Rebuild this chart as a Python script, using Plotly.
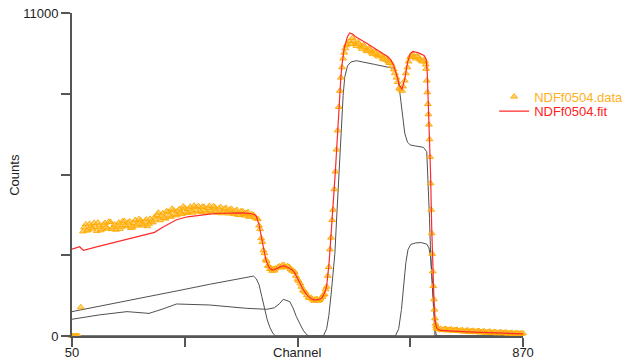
import plotly.graph_objects as go

# ---- measured spectrum (channel, counts) ----
data_channels_main = (
    [50, 53, 56, 59, 62, 66]
    + list(range(70, 386, 5))
    + list(range(388, 421, 2))
    + list(range(425, 506, 5))
    + list(range(507, 552, 2))
    + list(range(555, 691, 5))
    + list(range(692, 717, 1))
    + list(range(720, 871, 5))
)
data_counts_main = [
    0, 0, 0, 0, 0, 980,
    # 70 .. 385
    3560, 3800, 3620, 3740, 3850, 3580, 3760, 3640, 3850, 3660,
    3880, 3700, 3620, 3860, 3720, 3920, 3740, 3900, 3700, 3950,
    3790, 3930, 3760, 3970, 3820, 3900, 4050, 4120, 3940, 4180,
    4000, 4230, 4060, 4280, 4110, 4320, 4150, 4360, 4190, 4400,
    4200, 4380, 4420, 4220, 4400, 4210, 4430, 4240, 4380, 4200,
    4390, 4220, 4360, 4170, 4330, 4150, 4290, 4120, 4260, 4100,
    4220, 4080, 4120, 4010,
    # 388 .. 420
    3980, 3760, 3640, 3330, 3200, 2920, 2820, 2600, 2560, 2390,
    2380, 2280, 2300, 2220, 2280, 2230, 2300,
    # 425 .. 505
    2350, 2330, 2420, 2340, 2350, 2230, 2180, 1930, 1790, 1560,
    1480, 1310, 1300, 1200, 1260, 1220, 1330,
    # 507 .. 551
    1400, 1430, 1590, 1680, 2050, 2350, 2950, 3350, 3950, 4300,
    5000, 5600, 6350, 7000, 7800, 8350, 8800, 9150, 9450, 9650,
    9800, 9900, 9950,
    # 555 .. 690
    10050, 10150, 9950, 10000, 9850, 9900, 9720, 9800, 9650, 9700,
    9560, 9600, 9450, 9480, 9350, 9300, 9080, 8800, 8450, 8350,
    8700, 9150, 9500, 9580, 9450, 9500, 9380, 9400,
    # 692 .. 716
    9350, 9250, 9100, 8700, 8300, 7900, 7550, 7200, 6700, 6100,
    5200, 4300, 3500, 2800, 2200, 1700, 1250, 900, 600, 420,
    330, 280, 250, 240, 230,
    # 720 .. 870
    250, 210, 240, 200, 220, 190, 210, 170, 200, 160,
    190, 150, 180, 140, 170, 130, 160, 120, 150, 110,
    140, 100, 130, 100, 120, 90, 110, 80, 100, 80, 90,
]

# interleaved channels (odd offsets) of the same measurement
data_channels_extra = (
    list(range(72, 383, 5))
    + list(range(427, 503, 5))
    + list(range(557, 688, 5))
    + list(range(722, 868, 5))
)
data_counts_extra = [
    # 72 .. 382
    3700, 3590, 3820, 3660, 3720, 3860, 3600, 3790, 3700, 3890,
    3640, 3800, 3760, 3650, 3900, 3780, 3860, 3680, 3850, 3760,
    3980, 3820, 3890, 3740, 3990, 3870, 3970, 4200, 4080, 4020,
    4250, 4100, 4330, 4150, 4260, 4200, 4410, 4230, 4320, 4250,
    4440, 4290, 4260, 4400, 4280, 4360, 4270, 4420, 4250, 4340,
    4180, 4330, 4230, 4300, 4200, 4260, 4130, 4240, 4150, 4190,
    4060, 4150, 4040,
    # 427 .. 502
    2370, 2400, 2350, 2380, 2280, 2220, 2050, 1880, 1680, 1520,
    1390, 1290, 1250, 1240, 1200, 1270,
    # 557 .. 687
    9950, 10050, 9880, 9950, 9780, 9850, 9700, 9760, 9600, 9650,
    9520, 9560, 9420, 9400, 9300, 9200, 8950, 8650, 8400, 8500,
    8950, 9350, 9560, 9500, 9520, 9420, 9350,
    # 722 .. 867
    200, 230, 190, 220, 180, 200, 170, 190, 150, 180,
    140, 170, 130, 160, 120, 150, 110, 140, 100, 130,
    90, 120, 90, 110, 80, 100, 70, 90, 70, 80,
]

data_channels = data_channels_main + data_channels_extra
data_counts = data_counts_main + data_counts_extra

# ---- fitted spectrum ----
fit_channels = [
    50, 58, 64, 67, 71, 100, 150, 185, 200, 215, 240, 260, 280, 300, 320,
    340, 360, 375, 382, 385, 388, 390, 392, 394, 396, 398, 400, 402, 404,
    406, 408, 410, 412, 414, 416, 418, 420, 425, 430, 435, 440, 445, 450,
    455, 460, 465, 470, 475, 480, 485, 490, 495, 500, 505, 507, 509, 511,
    513, 515, 517, 519, 521, 523, 525, 527, 529, 531, 533, 535, 537, 539,
    541, 543, 545, 547, 549, 551, 555, 560, 565, 570, 575, 580, 585, 590,
    595, 600, 605, 610, 615, 620, 625, 630, 635, 640, 645, 650, 655, 660,
    665, 670, 675, 680, 685, 690, 692, 694, 696, 698, 700, 702, 704, 706,
    708, 710, 712, 714, 716, 720, 760, 800, 840, 870,
]
fit_counts = [
    2960, 3010, 3040, 2980, 2920, 3060, 3300, 3460, 3530, 3700, 3960, 4060,
    4110, 4150, 4180, 4190, 4190, 4170, 4130, 4080, 3950, 3800, 3600, 3380,
    3150, 2950, 2780, 2640, 2520, 2420, 2350, 2300, 2270, 2250, 2250, 2260,
    2280, 2320, 2370, 2390, 2360, 2320, 2260, 2150, 1960, 1760, 1590, 1450,
    1340, 1270, 1230, 1230, 1250, 1300, 1380, 1460, 1560, 1700, 2000, 2400,
    2900, 3400, 3900, 4350, 4950, 5650, 6300, 7050, 7750, 8400, 8850, 9250,
    9580, 9800, 9950, 10080, 10200, 10320, 10280, 10200, 10150, 10100,
    10040, 9980, 9920, 9860, 9800, 9740, 9680, 9620, 9560, 9500, 9400, 9200,
    8900, 8550, 8400, 8750, 9300, 9620, 9690, 9670, 9640, 9600, 9550, 9500,
    9420, 8950, 7800, 7050, 5500, 3700, 2300, 1300, 600, 330, 250, 220, 190,
    150, 120, 90, 70,
]

# ---- partial (element) spectra ----
comp1_channels = [50, 100, 150, 200, 250, 300, 350, 372, 380, 385, 390, 395,
                  400, 405, 410, 415, 420, 870]
comp1_counts = [830, 1010, 1200, 1390, 1570, 1760, 1940, 2010, 2040, 1950,
                1750, 1350, 900, 550, 280, 100, 0, 0]

comp2_channels = [50, 100, 150, 170, 190, 215, 240, 300, 367, 404, 418, 428,
                  434, 446, 452, 458, 464, 470, 475, 480, 870]
comp2_counts = [570, 720, 830, 800, 770, 920, 1090, 1056, 943, 909, 960, 1113,
                1250, 1170, 950, 658, 400, 204, 80, 0, 0]

comp3_channels = [50, 507, 513, 517, 521, 525, 528, 531, 534, 537, 540, 543,
                  546, 551, 557, 567, 600, 634, 640, 643, 646, 650, 655, 660,
                  665, 675, 689, 695, 698, 700, 702, 705, 707, 710, 870]
comp3_counts = [0, 0, 250, 700, 1400, 2136, 2817, 3950, 5085, 6250, 7357,
                8200, 8832, 9200, 9330, 9376, 9250, 9117, 8950, 8720, 8300,
                7700, 6903, 6600, 6505, 6470, 6425, 6277, 5085, 4000, 2817,
                1600, 773, 0, 0]

comp4_channels = [50, 638, 644, 649, 653, 657, 661, 666, 675, 685, 695, 699,
                  702, 705, 708, 711, 713, 870]
comp4_counts = [0, 0, 250, 900, 1700, 2500, 2950, 3120, 3170, 3180, 3130,
                3000, 2700, 1900, 800, 150, 0, 0]

x_tickvals = [50, 255, 460, 665, 870]
x_ticktext = ["50", "", "", "", "870"]
y_tickvals = [0, 2750, 5500, 8250, 11000]
y_ticktext = ["0", "", "", "", "11000"]

FONT = "Liberation Sans, Arial, sans-serif"
AXIS_COLOR = "#555555"
PART_COLOR = "#505050"

fig = go.Figure()

for cx, cy in [(comp1_channels, comp1_counts), (comp2_channels, comp2_counts),
               (comp3_channels, comp3_counts), (comp4_channels, comp4_counts)]:
    fig.add_trace(go.Scatter(
        x=cx, y=cy, mode="lines", showlegend=False,
        line=dict(color=PART_COLOR, width=1), hoverinfo="skip",
    ))

fig.add_trace(go.Scatter(
    x=data_channels, y=data_counts, mode="markers", name="NDFf0504.data",
    legend="legend", cliponaxis=False,
    marker=dict(symbol="triangle-up", size=6,
                color="rgba(255,190,60,0.65)",
                line=dict(color="rgba(255,170,0,0.95)", width=1)),
))

fig.add_trace(go.Scatter(
    x=fit_channels, y=fit_counts, mode="lines", name="NDFf0504.fit",
    legend="legend2", line=dict(color="#FF2A2A", width=1.2),
))

fig.update_layout(
    width=628, height=361,
    margin=dict(l=72, r=105, t=13, b=25, autoexpand=False),
    paper_bgcolor="white", plot_bgcolor="white",
    font=dict(family=FONT, size=13, color="#222222"),
    legend=dict(x=0.936, y=0.741, xanchor="left", yanchor="middle",
                font=dict(family=FONT, size=13, color="#FFB020"),
                bgcolor="rgba(0,0,0,0)", borderwidth=0),
    legend2=dict(x=0.936, y=0.696, xanchor="left", yanchor="middle",
                 font=dict(family=FONT, size=13, color="#FF2020"),
                 bgcolor="rgba(0,0,0,0)", borderwidth=0),
    annotations=[
        dict(text="Channel", x=0.5, y=-0.05, xref="paper", yref="paper",
             xanchor="center", yanchor="middle", showarrow=False,
             font=dict(family=FONT, size=13, color="#222222")),
        dict(text="Counts", x=-0.128, y=0.5, xref="paper", yref="paper",
             xanchor="center", yanchor="middle", showarrow=False,
             textangle=-90, font=dict(family=FONT, size=13, color="#222222")),
    ],
)

fig.update_xaxes(
    range=[50, 870], tickvals=x_tickvals, ticktext=x_ticktext,
    ticks="outside", ticklen=9, tickwidth=2, tickcolor=AXIS_COLOR,
    ticklabelstandoff=-6,
    showline=True, linecolor=AXIS_COLOR, linewidth=2,
    showgrid=False, zeroline=False, automargin=False,
    tickfont=dict(family=FONT, size=13, color="#222222"),
)
fig.update_yaxes(
    range=[0, 11000], tickvals=y_tickvals, ticktext=y_ticktext,
    ticks="outside", ticklen=9, tickwidth=2, tickcolor=AXIS_COLOR,
    showline=True, linecolor=AXIS_COLOR, linewidth=2,
    showgrid=False, zeroline=False, automargin=False,
    tickfont=dict(family=FONT, size=13, color="#222222"),
)

fig.write_html("out.html")
